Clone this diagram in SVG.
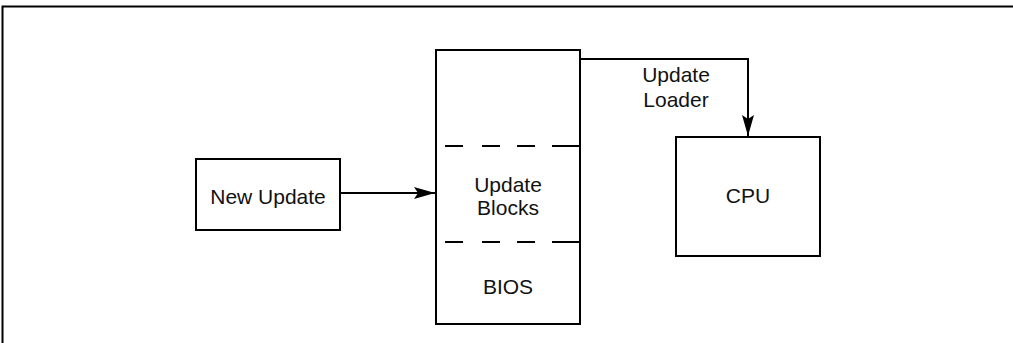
<svg xmlns="http://www.w3.org/2000/svg" width="1013" height="343" viewBox="0 0 1013 343">
<style>
.box{fill:#fff;stroke:#000;stroke-width:2}
.ln{fill:none;stroke:#000;stroke-width:2}
.dash{fill:none;stroke:#000;stroke-width:2}
text{font-family:"Liberation Sans",Arial,sans-serif;font-size:21px;fill:#111;text-anchor:middle}
</style>
<defs>
<marker id="ah" markerWidth="22" markerHeight="12" refX="21" refY="6" orient="auto" markerUnits="userSpaceOnUse">
<path d="M0,0 L21,6 L0,12 L4,6 Z" fill="#000"/>
</marker>
</defs>
<g id="frame">
<path class="ln" d="M2.5,343 V6.5 H1013"/>
</g>
<g id="new-update">
<rect class="box" x="196" y="159" width="144" height="71"/>
<text x="268" y="204">New Update</text>
</g>
<g id="memory">
<rect class="box" x="436" y="50" width="144" height="274"/>
<path class="dash" d="M445 146H463M482 146H500M517 146H535M552 146H580"/>
<path class="dash" d="M445 242H463M482 242H500M517 242H535M552 242H580"/>
<text x="508" y="192">Update</text>
<text x="508" y="215">Blocks</text>
<text x="508" y="294">BIOS</text>
</g>
<g id="cpu">
<rect class="box" x="676" y="137" width="144" height="119"/>
<text x="748" y="203">CPU</text>
</g>
<g id="connectors">
<path class="ln" d="M340,193 H435" marker-end="url(#ah)"/>
<path class="ln" d="M580,59 H748 V136" marker-end="url(#ah)"/>
<text x="676" y="82">Update</text>
<text x="676" y="107">Loader</text>
</g>
</svg>
